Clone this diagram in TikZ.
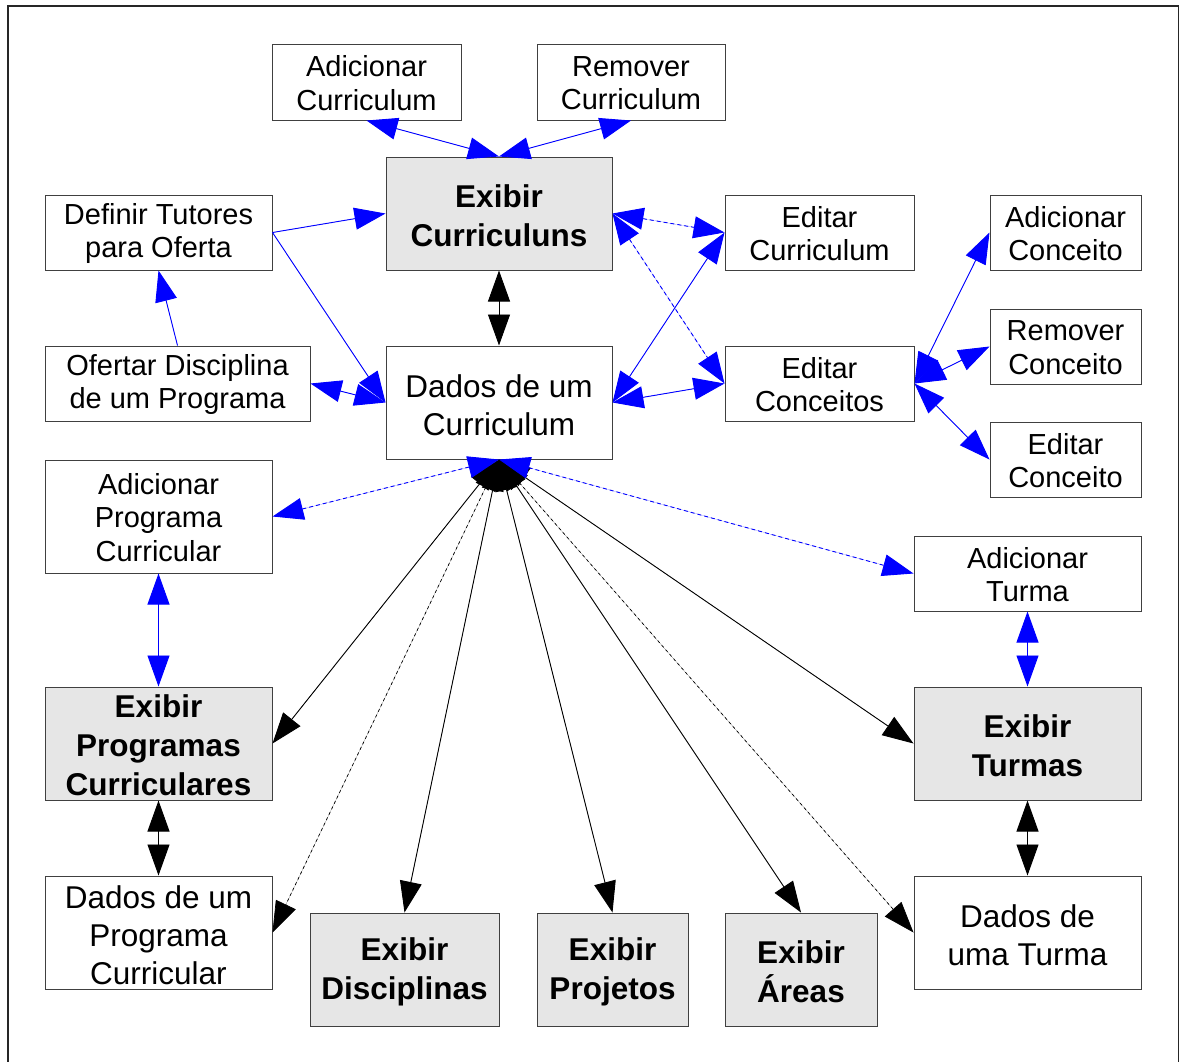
\documentclass[tikz,border=0pt]{standalone}
\usepackage{fontspec}
\setmainfont{Liberation Sans}
\usetikzlibrary{arrows.meta}
\definecolor{boxgray}{HTML}{E6E6E6}
\definecolor{edgeline}{HTML}{404040}
\begin{document}
\begin{tikzpicture}[x=1pt,y=-1pt,
  >={Triangle[length=31pt,width=22pt]},
  box/.style={draw=edgeline, line width=1pt, fill=white, inner sep=0pt},
  gbox/.style={box, fill=boxgray},
  txt/.style={inner sep=0pt, align=center, font=\fontsize{29}{33.5}\selectfont, yshift=-1pt},
  bigtxt/.style={inner sep=0pt, align=center, font=\fontsize{31.5}{38}\selectfont, yshift=-3pt},
  btxt/.style={inner sep=0pt, align=center, font=\bfseries\fontsize{31.5}{39}\selectfont, yshift=-2pt},
  bl/.style={draw=blue, fill=blue, line width=0.9pt},
  bld/.style={bl, dash pattern=on 4pt off 3pt},
  bk/.style={draw=black, fill=black, line width=0.9pt},
  bkd/.style={bk, dash pattern=on 3pt off 3pt, line width=0.7pt}]
\useasboundingbox (0,0) rectangle (1180,1061);
% outer frame
\draw[line width=1.6pt, black!85] (8,1070) -- (8,6) -- (1178.5,6) -- (1178.5,1070);

% boxes
\node[box, minimum width=189, minimum height=76] (ac) at (366.5,82) {};
\node[box, minimum width=188, minimum height=76] (rc) at (631,82) {};
\node[gbox, minimum width=226, minimum height=113] (ecs) at (499,213.5) {};
\node[box, minimum width=227, minimum height=75] (dt) at (158.5,232.5) {};
\node[box, minimum width=189, minimum height=75] (edc) at (819.5,232.5) {};
\node[box, minimum width=151, minimum height=75] (acn) at (1065.5,232.5) {};
\node[box, minimum width=151, minimum height=75] (rcn) at (1065.5,346.5) {};
\node[box, minimum width=151, minimum height=75] (ecn) at (1065.5,459.5) {};
\node[box, minimum width=265, minimum height=75] (od) at (177.5,383.5) {};
\node[box, minimum width=226, minimum height=113] (dc) at (499,402.5) {};
\node[box, minimum width=189, minimum height=75] (edcs) at (819.5,383.5) {};
\node[box, minimum width=227, minimum height=113] (apc) at (158.5,516.5) {};
\node[box, minimum width=227, minimum height=75] (at) at (1027.5,573.5) {};
\node[gbox, minimum width=227, minimum height=113] (epc) at (158.5,743.5) {};
\node[gbox, minimum width=227, minimum height=113] (et) at (1027.5,743.5) {};
\node[box, minimum width=227, minimum height=113] (dpc) at (158.5,932.5) {};
\node[box, minimum width=227, minimum height=113] (dut) at (1027.5,932.5) {};
\node[gbox, minimum width=189, minimum height=113] (ed) at (404.5,969.5) {};
\node[gbox, minimum width=151, minimum height=113] (ep) at (612.5,969.5) {};
\node[gbox, minimum width=152, minimum height=113] (ea) at (801,969.5) {};

% box texts
\node[txt] (ac-t) at (ac) {Adicionar\\Curriculum};
\node[txt] (rc-t) at (rc) {Remover\\Curriculum};
\node[btxt] (ecs-t) at (ecs) {Exibir\\Curriculuns};
\node[txt] (dt-t) at (dt) {Definir Tutores\\para Oferta};
\node[txt] (edc-t) at (edc) {Editar\\Curriculum};
\node[txt] (acn-t) at (acn) {Adicionar\\Conceito};
\node[txt] (rcn-t) at (rcn) {Remover\\Conceito};
\node[txt] (ecn-t) at (ecn) {Editar\\Conceito};
\node[txt] (od-t) at (od) {Ofertar Disciplina\\de um Programa};
\node[bigtxt] (dc-t) at (dc) {Dados de um\\Curriculum};
\node[txt] (edcs-t) at (edcs) {Editar\\Conceitos};
\node[txt] (apc-t) at (apc) {Adicionar\\Programa\\Curricular};
\node[txt] (at-t) at (at) {Adicionar\\Turma};
\node[btxt] (epc-t) at (epc) {Exibir\\Programas\\Curriculares};
\node[btxt] (et-t) at (et) {Exibir\\Turmas};
\node[bigtxt] (dpc-t) at (dpc) {Dados de um\\Programa\\Curricular};
\node[bigtxt] (dut-t) at (dut) {Dados de\\uma Turma};
\node[btxt] (ed-t) at (ed) {Exibir\\Disciplinas};
\node[btxt] (ep-t) at (ep) {Exibir\\Projetos};
\node[btxt] (ea-t) at (ea) {Exibir\\Áreas};

% connectors around the curriculum view
\draw[bl, <->] (ac.south) -- (ecs.north);
\draw[bl, <->] (rc.south) -- (ecs.north);
\draw[bk, <->] (ecs.south) -- (dc.north);
\draw[bl, ->] (dt.east) -- (ecs.west);
\draw[bl, ->] (dt.east) -- (dc.west);
\draw[bl, ->] (od.north) -- (dt.south);
\draw[bl, <->] (od.east) -- (dc.west);
\draw[bld, <->] (ecs.east) -- (edc.west);
\draw[bld, <->] (ecs.east) -- (edcs.west);
\draw[bl, <->] (dc.east) -- (edc.west);
\draw[bl, <->] (dc.east) -- (edcs.west);
\draw[bl, <->] (edcs.east) -- (acn.west);
\draw[bl, <->] (edcs.east) -- (rcn.west);
\draw[bl, <->] (edcs.east) -- (ecn.west);

% side columns
\draw[bl, <->] (apc.south) -- (epc.north);
\draw[bk, <->] (epc.south) -- (dpc.north);
\draw[bl, <->] (at.south) -- (et.north);
\draw[bk, <->] (et.south) -- (dut.north);

% fan out of the curriculum data
\draw[bkd, <->] (dc.south) -- (dpc.east);
\draw[bkd, <->] (dc.south) -- (dut.west);
\draw[bk, <->] (dc.south) -- (epc.east);
\draw[bk, <->] (dc.south) -- (ed.north);
\draw[bk, <->] (dc.south) -- (ep.north);
\draw[bk, <->] (dc.south) -- (ea.north);
\draw[bk, <->] (dc.south) -- (et.west);
\draw[bld, <->] (dc.south) -- (apc.east);
\draw[bld, <->] (dc.south) -- (at.west);
\end{tikzpicture}
\end{document}
